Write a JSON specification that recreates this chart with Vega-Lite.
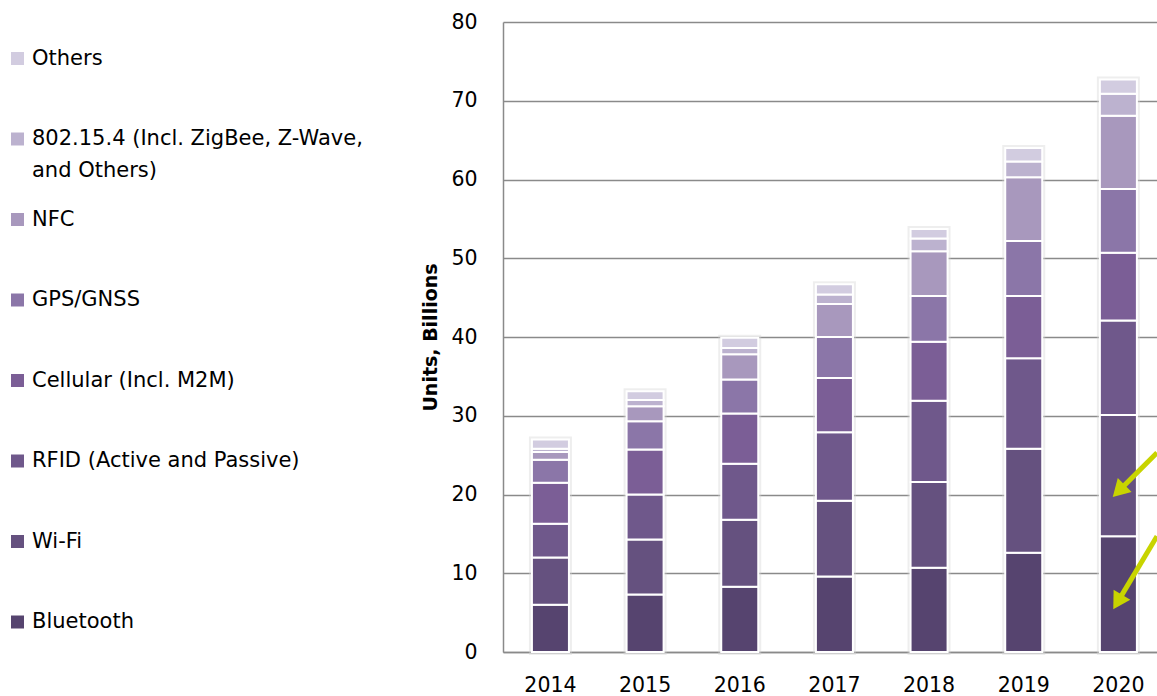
{
  "$schema": "https://vega.github.io/schema/vega-lite/v6.json",
  "width": 654,
  "height": 630,
  "autosize": {"type": "none"},
  "padding": {"left": 503, "top": 22, "right": 0, "bottom": 44},
  "background": "white",
  "config": {
    "view": {"stroke": null},
    "font": "DejaVu Sans",
    "style": {"guide-label": {"lineHeight": 32}},
    "axis": {
      "labelFont": "DejaVu Sans",
      "labelFontSize": 20.5,
      "labelColor": "#000000",
      "domainColor": "#8a8a8a",
      "domainWidth": 1.5,
      "gridColor": "#8a8a8a",
      "gridWidth": 1.5,
      "ticks": false,
      "tickSize": 0,
      "titleFont": "DejaVu Sans",
      "titleFontSize": 19,
      "titleFontWeight": "bold",
      "titleColor": "#000000"
    },
    "legend": {
      "padding": 0,
      "labelFont": "DejaVu Sans",
      "labelFontSize": 21,
      "labelColor": "#000000",
      "labelLimit": 0,
      "labelOffset": 4,
      "symbolType": "square",
      "symbolSize": 169,
      "symbolStrokeWidth": 0,
      "rowPadding": 26.5,
      "gridAlign": "all"
    }
  },
  "data": {
    "values": [
      {"year": "2014", "tech": "Bluetooth", "k": 1, "units": 6.0},
      {"year": "2014", "tech": "Wi-Fi", "k": 2, "units": 6.0},
      {"year": "2014", "tech": "RFID (Active and Passive)", "k": 3, "units": 4.3},
      {"year": "2014", "tech": "Cellular (Incl. M2M)", "k": 4, "units": 5.2},
      {"year": "2014", "tech": "GPS/GNSS", "k": 5, "units": 2.9},
      {"year": "2014", "tech": "NFC", "k": 6, "units": 1.0},
      {"year": "2014", "tech": "802.15.4 (Incl. ZigBee, Z-Wave, and Others)", "k": 7, "units": 0.4},
      {"year": "2014", "tech": "Others", "k": 8, "units": 1.2},
      {"year": "2015", "tech": "Bluetooth", "k": 1, "units": 7.3},
      {"year": "2015", "tech": "Wi-Fi", "k": 2, "units": 7.0},
      {"year": "2015", "tech": "RFID (Active and Passive)", "k": 3, "units": 5.7},
      {"year": "2015", "tech": "Cellular (Incl. M2M)", "k": 4, "units": 5.7},
      {"year": "2015", "tech": "GPS/GNSS", "k": 5, "units": 3.6},
      {"year": "2015", "tech": "NFC", "k": 6, "units": 1.9},
      {"year": "2015", "tech": "802.15.4 (Incl. ZigBee, Z-Wave, and Others)", "k": 7, "units": 0.8},
      {"year": "2015", "tech": "Others", "k": 8, "units": 1.1},
      {"year": "2016", "tech": "Bluetooth", "k": 1, "units": 8.3},
      {"year": "2016", "tech": "Wi-Fi", "k": 2, "units": 8.5},
      {"year": "2016", "tech": "RFID (Active and Passive)", "k": 3, "units": 7.1},
      {"year": "2016", "tech": "Cellular (Incl. M2M)", "k": 4, "units": 6.4},
      {"year": "2016", "tech": "GPS/GNSS", "k": 5, "units": 4.3},
      {"year": "2016", "tech": "NFC", "k": 6, "units": 3.2},
      {"year": "2016", "tech": "802.15.4 (Incl. ZigBee, Z-Wave, and Others)", "k": 7, "units": 0.8},
      {"year": "2016", "tech": "Others", "k": 8, "units": 1.3},
      {"year": "2017", "tech": "Bluetooth", "k": 1, "units": 9.6},
      {"year": "2017", "tech": "Wi-Fi", "k": 2, "units": 9.6},
      {"year": "2017", "tech": "RFID (Active and Passive)", "k": 3, "units": 8.7},
      {"year": "2017", "tech": "Cellular (Incl. M2M)", "k": 4, "units": 6.9},
      {"year": "2017", "tech": "GPS/GNSS", "k": 5, "units": 5.2},
      {"year": "2017", "tech": "NFC", "k": 6, "units": 4.2},
      {"year": "2017", "tech": "802.15.4 (Incl. ZigBee, Z-Wave, and Others)", "k": 7, "units": 1.2},
      {"year": "2017", "tech": "Others", "k": 8, "units": 1.3},
      {"year": "2018", "tech": "Bluetooth", "k": 1, "units": 10.7},
      {"year": "2018", "tech": "Wi-Fi", "k": 2, "units": 10.9},
      {"year": "2018", "tech": "RFID (Active and Passive)", "k": 3, "units": 10.3},
      {"year": "2018", "tech": "Cellular (Incl. M2M)", "k": 4, "units": 7.5},
      {"year": "2018", "tech": "GPS/GNSS", "k": 5, "units": 5.8},
      {"year": "2018", "tech": "NFC", "k": 6, "units": 5.7},
      {"year": "2018", "tech": "802.15.4 (Incl. ZigBee, Z-Wave, and Others)", "k": 7, "units": 1.6},
      {"year": "2018", "tech": "Others", "k": 8, "units": 1.2},
      {"year": "2019", "tech": "Bluetooth", "k": 1, "units": 12.6},
      {"year": "2019", "tech": "Wi-Fi", "k": 2, "units": 13.2},
      {"year": "2019", "tech": "RFID (Active and Passive)", "k": 3, "units": 11.5},
      {"year": "2019", "tech": "Cellular (Incl. M2M)", "k": 4, "units": 7.9},
      {"year": "2019", "tech": "GPS/GNSS", "k": 5, "units": 7.0},
      {"year": "2019", "tech": "NFC", "k": 6, "units": 8.1},
      {"year": "2019", "tech": "802.15.4 (Incl. ZigBee, Z-Wave, and Others)", "k": 7, "units": 2.0},
      {"year": "2019", "tech": "Others", "k": 8, "units": 1.7},
      {"year": "2020", "tech": "Bluetooth", "k": 1, "units": 14.7},
      {"year": "2020", "tech": "Wi-Fi", "k": 2, "units": 15.4},
      {"year": "2020", "tech": "RFID (Active and Passive)", "k": 3, "units": 12.0},
      {"year": "2020", "tech": "Cellular (Incl. M2M)", "k": 4, "units": 8.6},
      {"year": "2020", "tech": "GPS/GNSS", "k": 5, "units": 8.1},
      {"year": "2020", "tech": "NFC", "k": 6, "units": 9.3},
      {"year": "2020", "tech": "802.15.4 (Incl. ZigBee, Z-Wave, and Others)", "k": 7, "units": 2.8},
      {"year": "2020", "tech": "Others", "k": 8, "units": 1.8}
    ]
  },
  "layer": [
    {
      "mark": {"type": "bar", "fill": "#ffffff", "stroke": "#d4d4d4", "strokeWidth": 6, "strokeOpacity": 0.4},
      "encoding": {
        "x": {
          "field": "year", "type": "ordinal",
          "scale": {"paddingInner": 0.609, "paddingOuter": 0.259, "align": 0.59},
          "axis": {"title": null, "labelAngle": 0, "labelPadding": 23, "domain": true, "grid": false}
        },
        "y": {
          "aggregate": "sum", "field": "units", "type": "quantitative",
          "title": "Units, Billions",
          "scale": {"domain": [0, 80], "nice": false},
          "axis": {"values": [0, 10, 20, 30, 40, 50, 60, 70, 80], "labelPadding": 26, "titlePadding": 10, "grid": true, "domain": true}
        }
      }
    },
    {
      "mark": {"type": "bar", "stroke": "#ffffff", "strokeWidth": 2},
      "encoding": {
        "x": {
          "field": "year", "type": "ordinal",
          "scale": {"paddingInner": 0.609, "paddingOuter": 0.259, "align": 0.59},
          "axis": null
        },
        "y": {"field": "units", "type": "quantitative", "stack": "zero", "title": "Units, Billions"},
        "order": {"field": "k", "type": "quantitative"},
        "color": {
          "field": "tech", "type": "nominal",
          "scale": {
            "domain": ["Others", "802.15.4 (Incl. ZigBee, Z-Wave, and Others)", "NFC", "GPS/GNSS", "Cellular (Incl. M2M)", "RFID (Active and Passive)", "Wi-Fi", "Bluetooth"],
            "range": ["#d2cce0", "#bcb2cf", "#a898bd", "#8b76a8", "#7b5e96", "#6f588b", "#65517f", "#56446f"]
          },
          "legend": {
            "orient": "none", "legendX": -496, "legendY": 26, "title": null,
            "labelExpr": "datum.label == '802.15.4 (Incl. ZigBee, Z-Wave, and Others)' ? ['802.15.4 (Incl. ZigBee, Z-Wave,', 'and Others)'] : datum.label"
          }
        }
      }
    },
    {
      "data": {"values": [
        {"x0": 1.0, "y0": 25.3, "x1": 0.9445, "y1": 20.7, "heading": 225},
        {"x0": 1.0, "y0": 14.7, "x1": 0.942, "y1": 6.65, "heading": 211}
      ]},
      "layer": [
        {
          "mark": {"type": "rule", "color": "#c8d400", "strokeWidth": 5},
          "encoding": {
            "x": {"field": "x0", "type": "quantitative", "scale": {"domain": [0, 1]}, "axis": null},
            "x2": {"field": "x1"},
            "y": {"field": "y0", "type": "quantitative", "title": "Units, Billions"},
            "y2": {"field": "y1"}
          }
        },
        {
          "mark": {"type": "point", "shape": "triangle", "filled": true, "color": "#c8d400", "size": 380, "opacity": 1},
          "encoding": {
            "x": {"field": "x1", "type": "quantitative", "scale": {"domain": [0, 1]}, "axis": null},
            "y": {"field": "y1", "type": "quantitative", "title": "Units, Billions"},
            "angle": {"field": "heading", "type": "quantitative", "scale": null}
          }
        }
      ]
    }
  ],
  "resolve": {"scale": {"x": "independent"}}
}
